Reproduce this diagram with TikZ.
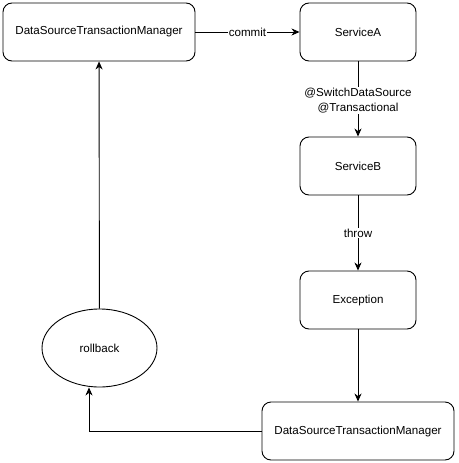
\documentclass[tikz,border=0pt]{standalone}
\usepackage{fontspec}
\setmainfont{Liberation Sans}
\usetikzlibrary{arrows.meta,shapes.geometric}
\begin{document}
\begin{tikzpicture}[x=1pt,y=-1pt,
  box/.style={draw, rounded corners=9pt, line width=0.9pt, minimum width=116pt, minimum height=58pt, inner sep=0pt, font=\fontsize{11.6}{14}\selectfont},
  widebox/.style={box, minimum width=192pt},
  oval/.style={draw, ellipse, line width=0.9pt, minimum width=115pt, minimum height=78pt, inner sep=0pt, font=\fontsize{11.6}{14}\selectfont},
  conn/.style={line width=0.9pt, -{Stealth[length=8pt,width=7pt,inset=2.5pt]}},
  lbl/.style={fill=white, inner sep=1pt, font=\fontsize{11.6}{14.5}\selectfont, align=center}]
\useasboundingbox (0,0) rectangle (458,463);
\node[widebox] (m1) at (99,32) {DataSourceTransactionManager};
\node[box] (a) at (358,32) {ServiceA};
\node[box] (b) at (358,166) {ServiceB};
\node[box] (e) at (358,300) {Exception};
\node[widebox] (m2) at (358,431) {DataSourceTransactionManager};
\node[oval] (r) at (99.5,348) {rollback};
\coordinate (c) at (89,431);
\draw[conn] (m1) -- node[lbl] {commit} (a);
\draw[conn] (a) -- node[lbl, pos=0.52] {@SwitchDataSource\\@Transactional} (b);
\draw[conn] (b) -- node[lbl] {throw} (e);
\draw[conn] (e) -- (m2);
\draw[conn] (r) -- (m1);
\draw[conn] (m2.west) -- (c) -- (c |- r.south);
\end{tikzpicture}
\end{document}
